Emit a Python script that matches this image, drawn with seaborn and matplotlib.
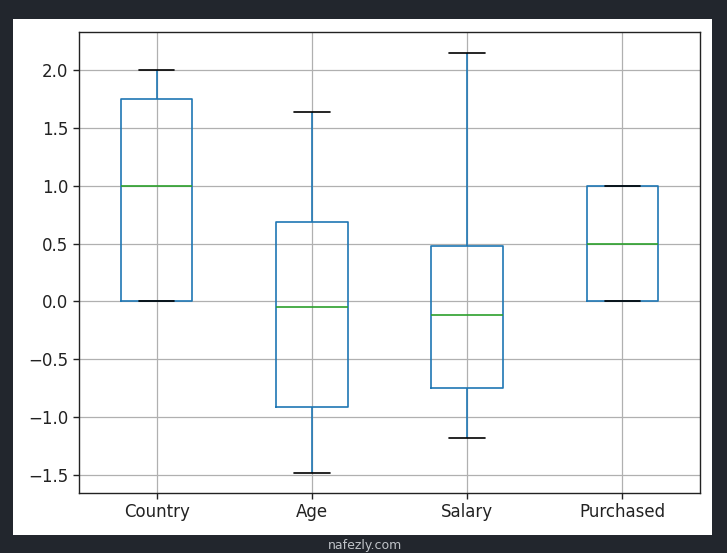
import pandas as pd
import matplotlib.pyplot as plt
import seaborn as sns
from matplotlib.patches import Rectangle

# five-number summaries (min, q1, median, q3, max)
country = [0.0, 0.0, 1.0, 1.75, 2.0]
age = [-1.48, -0.91, -0.05, 0.69, 1.64]
salary = [-1.18, -0.75, -0.12, 0.48, 2.15]
purchased = [0.0, 0.0, 0.5, 1.0, 1.0]
columns = ['Country', 'Age', 'Salary', 'Purchased']

df = pd.DataFrame({'Country': country, 'Age': age,
                   'Salary': salary, 'Purchased': purchased})

sns.set_style('white')
plt.rcParams['font.family'] = ['DejaVu Sans']

fig = plt.figure(figsize=(7.27, 5.53), dpi=100, facecolor='#22262d')
# white notebook-output area inside the dark screenshot frame
fig.patches.append(Rectangle((13 / 727, 1 - 535 / 553), 699 / 727, 516 / 553,
                             transform=fig.transFigure, facecolor='white',
                             edgecolor='none', zorder=-10))

ax = fig.add_axes([79 / 727, 1 - 493 / 553, 621 / 727, 461 / 553])
sns.boxplot(data=df[columns], ax=ax, fill=False, width=0.46, whis=1.5,
            color='#1f77b4', linewidth=1.2,
            medianprops={'color': '#2ca02c'},
            capprops={'color': 'black'},
            whiskerprops={'color': '#1f77b4'},
            boxprops={'color': '#1f77b4'})

ax.set_xlim(-0.5, 3.5)
ax.set_ylim(-1.656, 2.33)
ax.set_yticks([-1.5, -1.0, -0.5, 0.0, 0.5, 1.0, 1.5, 2.0])
ax.grid(True, color='#b0b0b0', linewidth=0.9)
ax.set_axisbelow(True)
for s in ax.spines.values():
    s.set_color('#222222')
    s.set_linewidth(1.0)
ax.tick_params(axis='both', which='major', length=4, width=1, color='#222222',
               labelsize=12, labelcolor='#222222', bottom=True, left=True)
ax.set_xlabel('')
ax.set_ylabel('')

fig.text(365 / 727, 1 - 545 / 553, 'nafezly.com', color='#bfc3c8', fontsize=9,
         ha='center', va='center')

fig.savefig('out.png', dpi=100, facecolor=fig.get_facecolor())
